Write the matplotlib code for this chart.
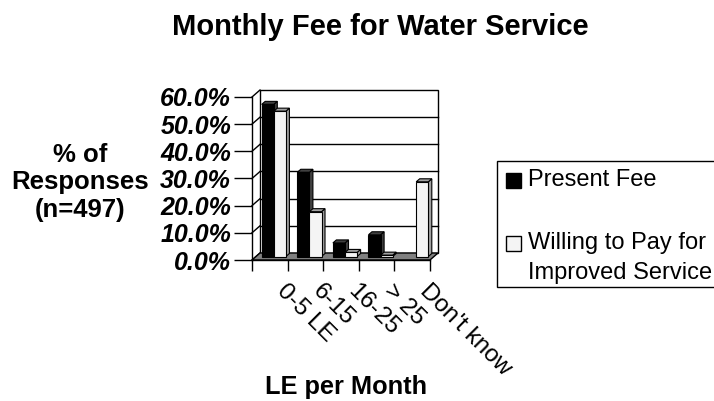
import numpy as np
import matplotlib
matplotlib.use("Agg")
from matplotlib import pyplot as plt
from matplotlib.patches import Rectangle, Polygon
from matplotlib.transforms import offset_copy

plt.rcParams['font.family'] = ['Liberation Sans', 'DejaVu Sans']

categories = ["0-5 LE", "6-15", "16-25", "> 25", "Don't know"]
presentFee = [56.0, 31.0, 5.0, 8.0, 0.0]
willingToPay = [53.5, 16.5, 1.5, 0.5, 27.5]
seriesNames = ["Present Fee", "Willing to Pay for\nImproved Service"]
seriesColors = ['#000000', '#f4f4f4']
sideColors = ['#404040', '#a0a0a0']
yTicks = [0, 10, 20, 30, 40, 50, 60]
yLabelLines = ["% of", "Responses", "(n=497)"]

W, H = 714, 401
# fake 3d depth, in pixels
wallDx, wallDy = 8, 7
barDx, barDy = 4, 3.5

fig = plt.figure(figsize=(W / 100, H / 100), dpi=100)
ax = fig.add_axes([252/W, 141/H, 178/W, 163/H])
n = len(categories)
ax.set_xlim(0, n)
ax.set_ylim(0, 60)
for s in ax.spines.values():
    s.set_visible(False)

wallTr = offset_copy(ax.transData, fig=fig, x=wallDx, y=wallDy, units='dots')
barTr = offset_copy(ax.transData, fig=fig, x=barDx, y=barDy, units='dots')

# back wall + gridlines
ax.add_patch(Rectangle((0, 0), n, 60, transform=wallTr, facecolor='white',
                       edgecolor='black', lw=1, clip_on=False, zorder=0))
for t in yTicks[1:-1]:
    ax.plot([0, n], [t, t], transform=wallTr, color='black', lw=1, clip_on=False, zorder=1)

# side wall gridlines (front axis -> back wall)
ddx = n * wallDx / 178.0
ddy = 60 * wallDy / 163.0
for t in yTicks:
    ax.plot([0, ddx], [t, t + ddy], color='black', lw=1, clip_on=False, zorder=1)

# floor
ax.add_patch(Polygon([(0, 0), (n, 0), (n + ddx, ddy), (ddx, ddy)], closed=True,
                     facecolor='#808080', edgecolor='black', lw=1, clip_on=False, zorder=2))

# bars (front face + side + top)
x = np.arange(n)
w = 0.34
bdx = n * 3.5 / 178.0
bdy = 60 * 3.0 / 163.0
for vals, off, front, side in [(presentFee, -w/2, seriesColors[0], sideColors[0]),
                              (willingToPay, w/2, seriesColors[1], sideColors[1])]:
    xs = x + 0.5 + off - w/2
    keep = [i for i, v in enumerate(vals) if v > 0]
    ax.bar(xs[keep], [vals[i] for i in keep], width=w, align='edge', color=front,
           edgecolor='black', lw=0.8, transform=barTr, clip_on=False, zorder=4)
    for i in keep:
        xi, v = xs[i], vals[i]
        sidePoly = [(xi + w, 0), (xi + w + bdx, bdy), (xi + w + bdx, v + bdy), (xi + w, v)]
        topPoly = [(xi, v), (xi + bdx, v + bdy), (xi + w + bdx, v + bdy), (xi + w, v)]
        ax.add_patch(Polygon(sidePoly, closed=True, transform=barTr, facecolor=side,
                             edgecolor='black', lw=0.8, clip_on=False, zorder=3))
        ax.add_patch(Polygon(topPoly, closed=True, transform=barTr, facecolor=side,
                             edgecolor='black', lw=0.8, clip_on=False, zorder=3))

# axis lines and ticks
ax.plot([0, 0], [0, 60], color='black', lw=1, clip_on=False, zorder=5)
ax.plot([0, n], [0, 0], color='black', lw=1, clip_on=False, zorder=5)
ax.set_yticks(yTicks)
ax.set_yticklabels([f"{t:.1f}%" for t in yTicks], fontsize=18, fontweight='bold',
                   fontstyle='italic')
ax.set_xticks(np.arange(n + 1))
ax.set_xticklabels([])
ax.tick_params(axis='y', length=13, width=1, pad=2)
ax.tick_params(axis='x', length=8, width=1, direction='out')
for i, c in enumerate(categories):
    ax.text(i + 1.02, -7.5, c, rotation=-45, rotation_mode='anchor', ha='left', va='top',
            fontsize=17.5)

fig.text(380/W, 1 - 35/H, "Monthly Fee for Water Service", ha='center', va='baseline',
         fontsize=21, fontweight='bold')
for line, yy in zip(yLabelLines, [155, 182, 210]):
    fig.text(80/W, 1 - yy/H, line, ha='center', va='center', fontsize=18.5,
             fontweight='bold')
fig.text(346/W, 1 - 387/H, "LE per Month", ha='center', va='center',
         fontsize=18.3, fontweight='bold')

# legend box, drawn by hand so the marker sits on the first text line
fig.patches.append(Rectangle((497/W, 1 - 287/H), 240/W, 126/H, transform=fig.transFigure,
                             facecolor='white', edgecolor='black', lw=1))
entryY = [180, 243]
for name, col, yy in zip(seriesNames, seriesColors, entryY):
    fig.patches.append(Rectangle((506/W, 1 - (yy + 7.5)/H), 15/W, 15/H,
                                 transform=fig.transFigure, facecolor=col,
                                 edgecolor='black', lw=1))
    for k, line in enumerate(name.split("\n")):
        fig.text(528/W, 1 - (yy + 30 * k)/H, line, ha='left', va='center', fontsize=17)

fig.savefig("out.png", dpi=100)
